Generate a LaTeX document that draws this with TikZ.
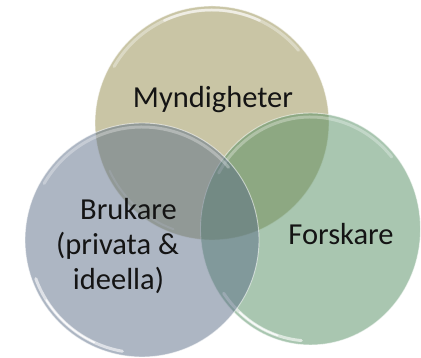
\documentclass[tikz,border=0pt]{standalone}
\usepackage{fontspec}
\setmainfont{Carlito}
\begin{document}
\begin{tikzpicture}[x=1pt,y=1pt]
\useasboundingbox (0,0) rectangle (421,358);
\definecolor{topc}{RGB}{147,139,75}
\definecolor{bluec}{RGB}{91,109,135}
\definecolor{greenc}{RGB}{83,141,97}
\definecolor{textc}{RGB}{20,20,20}
\tikzset{
  venn/.style={fill opacity=0.5, draw=white, draw opacity=0.55, line width=0.9pt},
  hl/.style={draw=white, line cap=round},
  lbl/.style={font=\fontsize{30.5}{36}\selectfont, text=textc, anchor=base, inner sep=0pt}
}
% top circle (Myndigheter)
\coordinate (ct) at (212,235);
\filldraw[venn, fill=topc] (ct) circle[radius=117];
\draw[hl, line width=3pt, opacity=0.35] ([shift={(40:113)}]ct) arc[start angle=40, end angle=150, radius=113];
\draw[hl, line width=2.5pt, opacity=0.55] ([shift={(65:113)}]ct) arc[start angle=65, end angle=115, radius=113];
\draw[hl, line width=2pt, opacity=0.3] ([shift={(205:113)}]ct) arc[start angle=205, end angle=250, radius=113];
% green ellipse (Forskare)
\coordinate (cg) at (310.5,129);
\filldraw[venn, fill=greenc] (cg) ellipse[x radius=110, y radius=116];
\draw[hl, line width=3pt, opacity=0.3] ([shift={({106*cos(40)},{112*sin(40)})}]cg) arc[start angle=40, end angle=150, x radius=106, y radius=112];
\draw[hl, line width=3pt, opacity=0.6] ([shift={({106*cos(215)},{112*sin(215)})}]cg) arc[start angle=215, end angle=265, x radius=106, y radius=112];
\draw[hl, line width=1.5pt, opacity=0.8] ([shift={({106*cos(228)},{112*sin(228)})}]cg) arc[start angle=228, end angle=252, x radius=106, y radius=112];
% blue circle (Brukare)
\coordinate (cb) at (142,118);
\filldraw[venn, fill=bluec] (cb) circle[radius=117];
\draw[hl, line width=3pt, opacity=0.3] ([shift={(40:113)}]cb) arc[start angle=40, end angle=150, radius=113];
\draw[hl, line width=3pt, opacity=0.6] ([shift={(200:113)}]cb) arc[start angle=200, end angle=260, radius=113];
\draw[hl, line width=1.5pt, opacity=0.85] ([shift={(212:113)}]cb) arc[start angle=212, end angle=245, radius=113];
% labels
\node[lbl] (tm) at (213,250) {Myndigheter};
\node[lbl] (tf) at (341,113) {Forskare};
\node[lbl] (tb1) at (128.5,138) {Brukare};
\node[lbl] (tb2) at (117.5,103) {(privata \&};
\node[lbl] (tb3) at (118.5,68) {ideella)};
\end{tikzpicture}
\end{document}
